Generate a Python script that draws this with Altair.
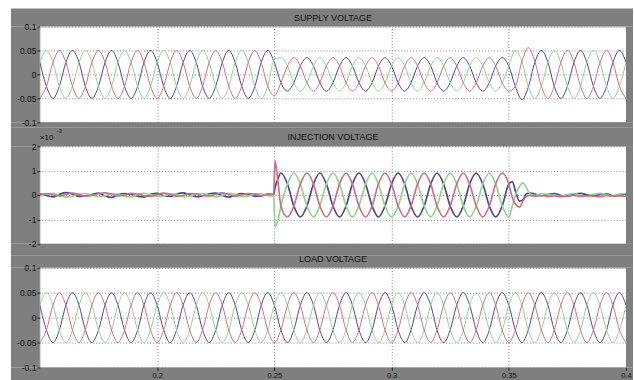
import altair as alt
import pandas as pd

# ---------------- data ----------------
# common time samples (s)
T = [
    0.1500, 0.1528, 0.1556, 0.1583, 0.1611, 0.1639,
    0.1667, 0.1694, 0.1722, 0.1750, 0.1778, 0.1806,
    0.1833, 0.1861, 0.1889, 0.1917, 0.1944, 0.1972,
    0.2000, 0.2028, 0.2056, 0.2083, 0.2111, 0.2139,
    0.2167, 0.2194, 0.2222, 0.2250, 0.2278, 0.2306,
    0.2333, 0.2361, 0.2389, 0.2417, 0.2444, 0.2472,
    0.2500, 0.2528, 0.2556, 0.2583, 0.2611, 0.2639,
    0.2667, 0.2694, 0.2722, 0.2750, 0.2778, 0.2806,
    0.2833, 0.2861, 0.2889, 0.2917, 0.2944, 0.2972,
    0.3000, 0.3028, 0.3056, 0.3083, 0.3111, 0.3139,
    0.3167, 0.3194, 0.3222, 0.3250, 0.3278, 0.3306,
    0.3333, 0.3361, 0.3389, 0.3417, 0.3444, 0.3472,
    0.3500, 0.3528, 0.3556, 0.3583, 0.3611, 0.3639,
    0.3667, 0.3694, 0.3722, 0.3750, 0.3778, 0.3806,
    0.3833, 0.3861, 0.3889, 0.3917, 0.3944, 0.3972,
    0.4000,
]

SUPPLY_BLUE = [
    0.025, -0.025, -0.05, -0.025, 0.025, 0.05,
    0.025, -0.025, -0.05, -0.025, 0.025, 0.05,
    0.025, -0.025, -0.05, -0.025, 0.025, 0.05,
    0.025, -0.025, -0.05, -0.025, 0.025, 0.05,
    0.025, -0.025, -0.05, -0.025, 0.025, 0.05,
    0.025, -0.025, -0.05, -0.025, 0.025, 0.05,
    0.025, -0.0175, -0.035, -0.0175, 0.0175, 0.035,
    0.0175, -0.0175, -0.035, -0.0175, 0.0175, 0.035,
    0.0175, -0.0175, -0.035, -0.0175, 0.0175, 0.035,
    0.0175, -0.0175, -0.035, -0.0175, 0.0175, 0.035,
    0.0175, -0.0175, -0.035, -0.0175, 0.0175, 0.035,
    0.0175, -0.0175, -0.035, -0.0175, 0.0175, 0.035,
    0.0175, -0.025, -0.053, -0.027, 0.025, 0.05,
    0.025, -0.025, -0.05, -0.025, 0.025, 0.05,
    0.025, -0.025, -0.05, -0.025, 0.025, 0.05,
    0.025,
]
SUPPLY_GREEN = [
    0.025, 0.05, 0.025, -0.025, -0.05, -0.025,
    0.025, 0.05, 0.025, -0.025, -0.05, -0.025,
    0.025, 0.05, 0.025, -0.025, -0.05, -0.025,
    0.025, 0.05, 0.025, -0.025, -0.05, -0.025,
    0.025, 0.05, 0.025, -0.025, -0.05, -0.025,
    0.025, 0.05, 0.025, -0.025, -0.05, -0.025,
    0.032, 0.035, 0.0175, -0.0175, -0.035, -0.0175,
    0.0175, 0.035, 0.0175, -0.0175, -0.035, -0.0175,
    0.0175, 0.035, 0.0175, -0.0175, -0.035, -0.0175,
    0.0175, 0.035, 0.0175, -0.0175, -0.035, -0.0175,
    0.0175, 0.035, 0.0175, -0.0175, -0.035, -0.0175,
    0.0175, 0.035, 0.0175, -0.0175, -0.035, -0.0175,
    0.0175, 0.05, 0.027, -0.025, -0.05, -0.025,
    0.025, 0.05, 0.025, -0.025, -0.05, -0.025,
    0.025, 0.05, 0.025, -0.025, -0.05, -0.025,
    0.025,
]
SUPPLY_RED = [
    -0.05, -0.025, 0.025, 0.05, 0.025, -0.025,
    -0.05, -0.025, 0.025, 0.05, 0.025, -0.025,
    -0.05, -0.025, 0.025, 0.05, 0.025, -0.025,
    -0.05, -0.025, 0.025, 0.05, 0.025, -0.025,
    -0.05, -0.025, 0.025, 0.05, 0.025, -0.025,
    -0.05, -0.025, 0.025, 0.05, 0.025, -0.025,
    -0.045, -0.0175, 0.0175, 0.035, 0.0175, -0.0175,
    -0.035, -0.0175, 0.0175, 0.035, 0.0175, -0.0175,
    -0.035, -0.0175, 0.0175, 0.035, 0.0175, -0.0175,
    -0.035, -0.0175, 0.0175, 0.035, 0.0175, -0.0175,
    -0.035, -0.0175, 0.0175, 0.035, 0.0175, -0.0175,
    -0.035, -0.0175, 0.0175, 0.035, 0.0175, -0.0175,
    -0.035, -0.025, 0.027, 0.056, 0.027, -0.025,
    -0.05, -0.025, 0.025, 0.05, 0.025, -0.025,
    -0.05, -0.025, 0.025, 0.05, 0.025, -0.025,
    -0.05,
]

LOAD_BLUE = [
    0.025, -0.025, -0.05, -0.025, 0.025, 0.05,
    0.025, -0.025, -0.05, -0.025, 0.025, 0.05,
    0.025, -0.025, -0.05, -0.025, 0.025, 0.05,
    0.025, -0.025, -0.05, -0.025, 0.025, 0.05,
    0.025, -0.025, -0.05, -0.025, 0.025, 0.05,
    0.025, -0.025, -0.05, -0.025, 0.025, 0.05,
    0.025, -0.025, -0.05, -0.025, 0.025, 0.05,
    0.025, -0.025, -0.05, -0.025, 0.025, 0.05,
    0.025, -0.025, -0.05, -0.025, 0.025, 0.05,
    0.025, -0.025, -0.05, -0.025, 0.025, 0.05,
    0.025, -0.025, -0.05, -0.025, 0.025, 0.05,
    0.025, -0.025, -0.05, -0.025, 0.025, 0.05,
    0.025, -0.025, -0.05, -0.025, 0.025, 0.05,
    0.025, -0.025, -0.05, -0.025, 0.025, 0.05,
    0.025, -0.025, -0.05, -0.025, 0.025, 0.05,
    0.025,
]
LOAD_GREEN = [
    0.025, 0.05, 0.025, -0.025, -0.05, -0.025,
    0.025, 0.05, 0.025, -0.025, -0.05, -0.025,
    0.025, 0.05, 0.025, -0.025, -0.05, -0.025,
    0.025, 0.05, 0.025, -0.025, -0.05, -0.025,
    0.025, 0.05, 0.025, -0.025, -0.05, -0.025,
    0.025, 0.05, 0.025, -0.025, -0.05, -0.025,
    0.025, 0.05, 0.025, -0.025, -0.05, -0.025,
    0.025, 0.05, 0.025, -0.025, -0.05, -0.025,
    0.025, 0.05, 0.025, -0.025, -0.05, -0.025,
    0.025, 0.05, 0.025, -0.025, -0.05, -0.025,
    0.025, 0.05, 0.025, -0.025, -0.05, -0.025,
    0.025, 0.05, 0.025, -0.025, -0.05, -0.025,
    0.025, 0.05, 0.025, -0.025, -0.05, -0.025,
    0.025, 0.05, 0.025, -0.025, -0.05, -0.025,
    0.025, 0.05, 0.025, -0.025, -0.05, -0.025,
    0.025,
]
LOAD_RED = [
    -0.05, -0.025, 0.025, 0.05, 0.025, -0.025,
    -0.05, -0.025, 0.025, 0.05, 0.025, -0.025,
    -0.05, -0.025, 0.025, 0.05, 0.025, -0.025,
    -0.05, -0.025, 0.025, 0.05, 0.025, -0.025,
    -0.05, -0.025, 0.025, 0.05, 0.025, -0.025,
    -0.05, -0.025, 0.025, 0.05, 0.025, -0.025,
    -0.05, -0.025, 0.025, 0.05, 0.025, -0.025,
    -0.05, -0.025, 0.025, 0.05, 0.025, -0.025,
    -0.05, -0.025, 0.025, 0.05, 0.025, -0.025,
    -0.05, -0.025, 0.025, 0.05, 0.025, -0.025,
    -0.05, -0.025, 0.025, 0.05, 0.025, -0.025,
    -0.05, -0.025, 0.025, 0.05, 0.025, -0.025,
    -0.05, -0.025, 0.025, 0.05, 0.025, -0.025,
    -0.05, -0.025, 0.025, 0.05, 0.025, -0.025,
    -0.05, -0.025, 0.025, 0.05, 0.025, -0.025,
    -0.05,
]

# injection voltage samples (values in units of 1e-3)
TI = [
    0.1500, 0.1528, 0.1556, 0.1583, 0.1611, 0.1639,
    0.1667, 0.1694, 0.1722, 0.1750, 0.1778, 0.1806,
    0.1833, 0.1861, 0.1889, 0.1917, 0.1944, 0.1972,
    0.2000, 0.2028, 0.2056, 0.2083, 0.2111, 0.2139,
    0.2167, 0.2194, 0.2222, 0.2250, 0.2278, 0.2306,
    0.2333, 0.2361, 0.2389, 0.2417, 0.2444, 0.2472,
    0.2497, 0.2503, 0.2515,
    0.2528, 0.2556, 0.2583, 0.2611, 0.2639,
    0.2667, 0.2694, 0.2722, 0.2750, 0.2778, 0.2806,
    0.2833, 0.2861, 0.2889, 0.2917, 0.2944, 0.2972,
    0.3000, 0.3028, 0.3056, 0.3083, 0.3111, 0.3139,
    0.3167, 0.3194, 0.3222, 0.3250, 0.3278, 0.3306,
    0.3333, 0.3361, 0.3389, 0.3417, 0.3444, 0.3472,
    0.3500, 0.3515, 0.3530, 0.3545, 0.3560, 0.3575, 0.3590,
    0.3611, 0.3639,
    0.3667, 0.3694, 0.3722, 0.3750, 0.3778, 0.3806,
    0.3833, 0.3861, 0.3889, 0.3917, 0.3944, 0.3972,
    0.4000,
]
INJ_BLUE = [
    0.05, -0.02, -0.08, 0.03, 0.10, 0.04,
    -0.06, -0.03, 0.02, 0.08, -0.04, -0.10,
    0.01, 0.06, 0.02, -0.05, -0.09, 0.03,
    0.07, -0.02, -0.06, 0.04, 0.09, 0.01,
    -0.07, -0.03, 0.05, 0.08, -0.02, -0.09,
    0.00, 0.06, 0.03, -0.05, -0.04, 0.04,
    0.02, 0.30, 0.65,
    0.90, 0.45, -0.45, -0.90, -0.45,
    0.45, 0.90, 0.45, -0.45, -0.90, -0.45,
    0.45, 0.90, 0.45, -0.45, -0.90, -0.45,
    0.45, 0.90, 0.45, -0.45, -0.90, -0.45,
    0.45, 0.90, 0.45, -0.45, -0.90, -0.45,
    0.45, 0.90, 0.45, -0.45, -0.90, -0.45,
    0.45, 0.55, 0.10, -0.25, -0.20, 0.05, 0.08,
    0.04, -0.03,
    0.02, 0.06, -0.02, -0.05, 0.03, 0.07,
    0.01, -0.04, 0.02, 0.05, -0.03, 0.00,
    0.03,
]
INJ_GREEN = [
    -0.03, 0.04, 0.07, -0.02, -0.08, -0.05,
    0.05, 0.06, -0.01, -0.07, -0.03, 0.06,
    0.04, -0.05, -0.08, 0.02, 0.07, 0.01,
    -0.06, -0.04, 0.05, 0.03, -0.07, -0.05,
    0.04, 0.06, -0.02, -0.08, -0.01, 0.07,
    0.03, -0.06, -0.05, 0.04, 0.05, -0.03,
    -0.04, -1.30, -1.05,
    -0.45, 0.45, 0.90, 0.45, -0.45,
    -0.90, -0.45, 0.45, 0.90, 0.45, -0.45,
    -0.90, -0.45, 0.45, 0.90, 0.45, -0.45,
    -0.90, -0.45, 0.45, 0.90, 0.45, -0.45,
    -0.90, -0.45, 0.45, 0.90, 0.45, -0.45,
    -0.90, -0.45, 0.45, 0.90, 0.45, -0.45,
    -0.90, -0.45, 0.05, 0.35, 0.50, 0.30, 0.05,
    -0.02, 0.05,
    0.03, -0.04, -0.06, 0.02, 0.06, -0.01,
    -0.05, 0.03, 0.07, 0.01, -0.04, 0.04,
    0.06,
]
INJ_RED = [
    0.02, 0.06, 0.01, -0.04, 0.03, 0.08,
    0.02, -0.05, -0.02, 0.05, 0.09, 0.03,
    -0.04, 0.00, 0.07, 0.04, -0.03, -0.06,
    0.02, 0.08, 0.03, -0.05, -0.02, 0.06,
    0.05, -0.03, -0.04, 0.03, 0.09, 0.02,
    -0.05, 0.01, 0.06, 0.04, -0.03, 0.02,
    0.03, 1.40, 0.60,
    -0.45, -0.90, -0.45, 0.45, 0.90,
    0.45, -0.45, -0.90, -0.45, 0.45, 0.90,
    0.45, -0.45, -0.90, -0.45, 0.45, 0.90,
    0.45, -0.45, -0.90, -0.45, 0.45, 0.90,
    0.45, -0.45, -0.90, -0.45, 0.45, 0.90,
    0.45, -0.45, -0.90, -0.45, 0.45, 0.90,
    0.45, -0.10, -0.40, -0.50, -0.25, -0.05, -0.02,
    -0.05, -0.02,
    -0.06, -0.03, -0.07, -0.04, -0.02, -0.06,
    -0.03, -0.05, -0.07, -0.02, -0.05, -0.04,
    -0.06,
]

X_TICKS = [0.2, 0.25, 0.3, 0.35, 0.4]
VOLT_TICKS = [-0.1, -0.05, 0, 0.05, 0.1]
INJ_TICKS = [-2, -1, 0, 1, 2]
TITLES = ["SUPPLY VOLTAGE", "INJECTION VOLTAGE", "LOAD VOLTAGE"]

# ---------------- styling ----------------
FONT = "Liberation Sans"
GRAY = "#7f7f7f"
GRIDC = "#8a8a8a"
W = 588
SOFT = ["#cf6f86", "#8fd58f", "#514786"]   # red, green, blue (supply / load)
VIVID = ["#dd2f2f", "#33cc33", "#2a2a9c"]  # red, green, blue (injection)
ONE = pd.DataFrame({"a": [0]})


def frame_strips(h, top, bottom):
    base = alt.Chart(ONE).mark_rect(color=GRAY)
    return [
        base.encode(x=alt.value(-29), x2=alt.value(W + 7), y=alt.value(-top), y2=alt.value(0)),
        base.encode(x=alt.value(-29), x2=alt.value(W + 7), y=alt.value(h), y2=alt.value(h + bottom)),
        base.encode(x=alt.value(-29), x2=alt.value(0), y=alt.value(0), y2=alt.value(h)),
        base.encode(x=alt.value(W), x2=alt.value(W + 7), y=alt.value(0), y2=alt.value(h)),
    ]


def panel(t, b, g, r, h, ydom, yvals, colors, sw, title, top, bottom, show_x, extras=()):
    n = len(t)
    df = pd.DataFrame({
        "t": list(t) * 3,
        "v": list(b) + list(g) + list(r),
        "s": ["b"] * n + ["g"] * n + ["r"] * n,
    })
    xs = alt.Scale(domain=[0.15, 0.4], nice=False, zero=False)
    ys = alt.Scale(domain=ydom, nice=False, zero=False)

    grid = alt.Chart(pd.DataFrame({"t": [0.2, 0.3], "v": [0, 0]})).mark_point(opacity=0, size=1).encode(
        x=alt.X("t:Q", scale=xs, axis=alt.Axis(
            orient="top", values=X_TICKS, grid=True, gridDash=[1, 2], gridColor=GRIDC,
            labels=False, ticks=False, domain=False, title=None, zindex=0,
            minExtent=0, maxExtent=0)),
        y=alt.Y("v:Q", scale=ys, axis=alt.Axis(
            orient="right", values=yvals, grid=True, gridDash=[1, 2], gridColor=GRIDC,
            labels=False, ticks=False, domain=False, title=None, zindex=0,
            minExtent=0, maxExtent=0)),
    )

    if show_x:
        xaxis = alt.Axis(
            orient="bottom", values=X_TICKS, grid=False, labels=True, ticks=True, tickSize=3,
            tickColor="#222", labelPadding=1, labelFontSize=7.5, labelFont=FONT, labelColor="#111",
            labelExpr="toString(datum.value)", labelFlush=False, domain=False, title=None,
            zindex=1, minExtent=0)
    else:
        xaxis = None
    yaxis = alt.Axis(
        orient="left", values=yvals, grid=False, labels=True, ticks=True, tickSize=3,
        tickColor="#222", labelPadding=1, labelFontSize=8.5, labelFont=FONT, labelColor="#111",
        labelExpr="toString(datum.value)", labelFlush=False, domain=False, title=None,
        zindex=1, minExtent=0)

    lines = alt.Chart(df).mark_line(strokeWidth=sw, interpolate="monotone", clip=True).encode(
        x=alt.X("t:Q", scale=xs, axis=xaxis),
        y=alt.Y("v:Q", scale=ys, axis=yaxis),
        color=alt.Color("s:N", scale=alt.Scale(domain=["r", "g", "b"], range=colors), legend=None),
    )

    ttl = alt.Chart(ONE).mark_text(text=title, font=FONT, fontSize=9, color="#111").encode(
        x=alt.value(W / 2), y=alt.value(-9))

    layers = [grid, lines] + frame_strips(h, top, bottom) + [ttl] + list(extras)
    return alt.layer(*layers).resolve_axis(x="independent", y="independent").properties(
        width=W, height=h)


exp_a = alt.Chart(ONE).mark_text(text="×10", font=FONT, fontSize=8, color="#111",
                                 align="left", baseline="middle").encode(
    x=alt.value(0), y=alt.value(-8))
exp_b = alt.Chart(ONE).mark_text(text="-3", font=FONT, fontSize=6, color="#111",
                                 align="left", baseline="middle").encode(
    x=alt.value(17), y=alt.value(-15))

p1 = panel(T, SUPPLY_BLUE, SUPPLY_GREEN, SUPPLY_RED, 96, [-0.1, 0.1], VOLT_TICKS,
           SOFT, 1.0, TITLES[0], 18, 5, False)
p2 = panel(TI, INJ_BLUE, INJ_GREEN, INJ_RED, 98, [-2, 2], INJ_TICKS,
           VIVID, 1.7, TITLES[1], 19, 12, False, extras=(exp_a, exp_b))
p3 = panel(T, LOAD_BLUE, LOAD_GREEN, LOAD_RED, 100, [-0.1, 0.1], VOLT_TICKS,
           SOFT, 1.0, TITLES[2], 12, 16, True)

chart = alt.vconcat(p1, p2, p3, spacing=24, bounds="flush").properties(
    background="white",
    padding={"left": 10, "top": 7, "right": 0, "bottom": 0},
).configure_view(fill="white", stroke="#d6d6d6", strokeWidth=1)

chart.save("out.html", embed_options={"renderer": "svg", "actions": False})
